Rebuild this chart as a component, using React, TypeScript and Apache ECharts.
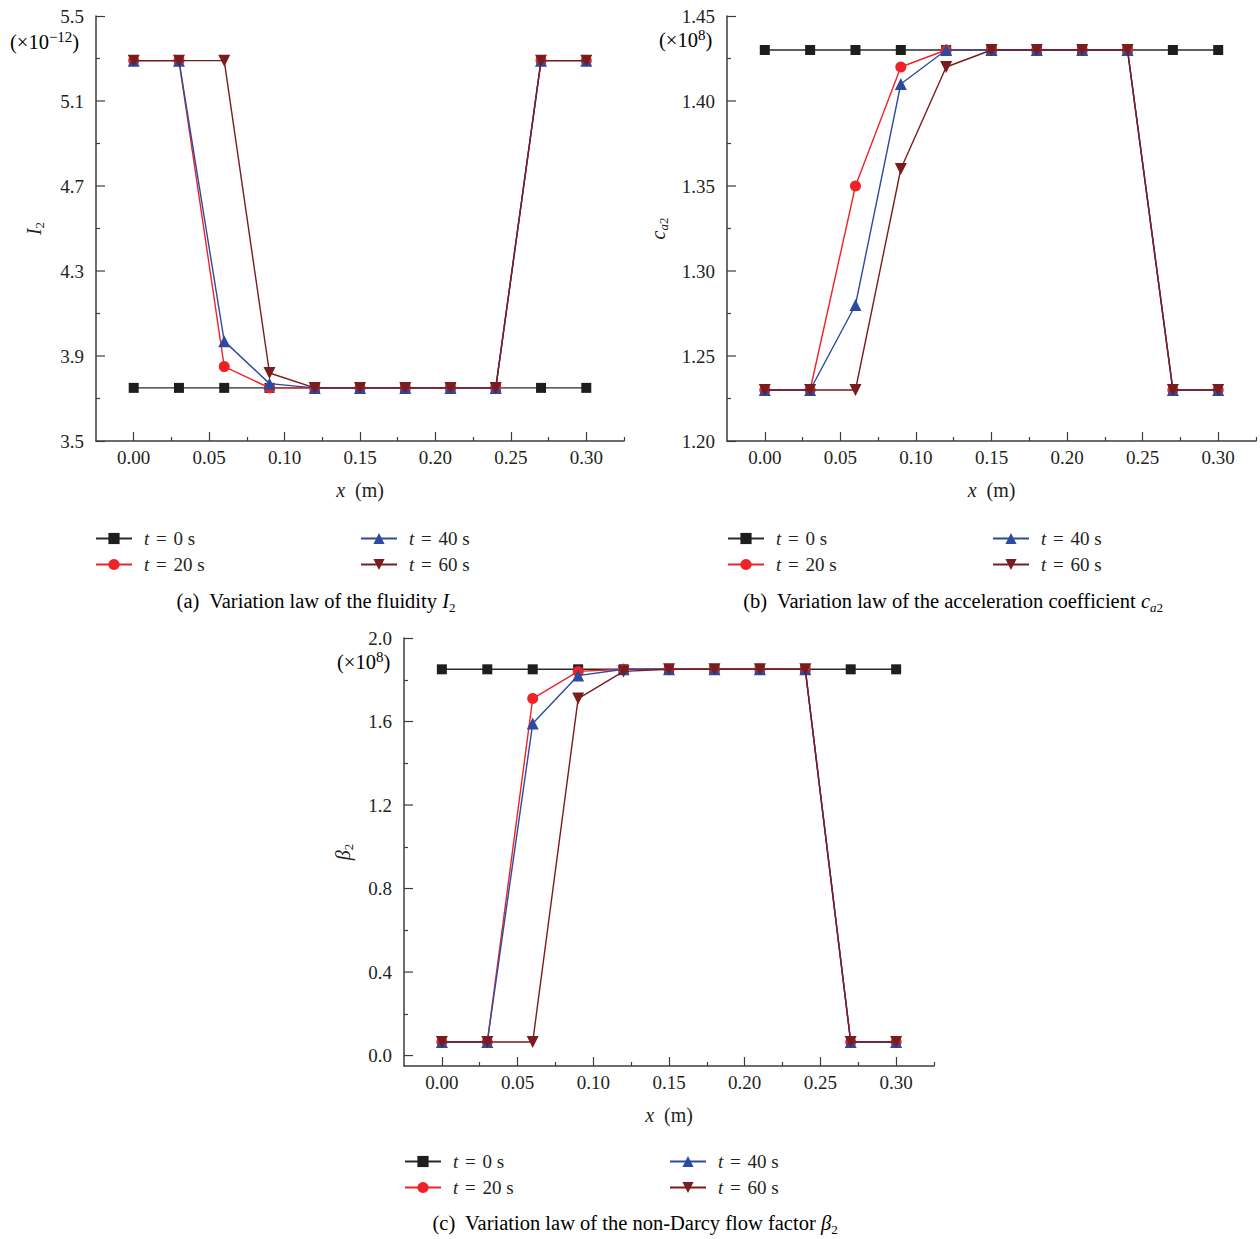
import React, { useEffect, useRef } from "react";
import * as echarts from "echarts";

const FONT = "Liberation Serif";
const TXT = "#231f20";

const xs = [0, 0.03, 0.06, 0.09, 0.12, 0.15, 0.18, 0.21, 0.24, 0.27, 0.3];
const seriesNames = ["t = 0 s", "t = 20 s", "t = 40 s", "t = 60 s"];

// (a) fluidity I2 (x1e-12)
const i2_t0 = [3.75, 3.75, 3.75, 3.75, 3.75, 3.75, 3.75, 3.75, 3.75, 3.75, 3.75];
const i2_t20 = [5.29, 5.29, 3.85, 3.75, 3.75, 3.75, 3.75, 3.75, 3.75, 5.29, 5.29];
const i2_t40 = [5.29, 5.29, 3.97, 3.77, 3.75, 3.75, 3.75, 3.75, 3.75, 5.29, 5.29];
const i2_t60 = [5.29, 5.29, 5.29, 3.82, 3.75, 3.75, 3.75, 3.75, 3.75, 5.29, 5.29];

// (b) acceleration coefficient ca2 (x1e8)
const ca_t0 = [1.43, 1.43, 1.43, 1.43, 1.43, 1.43, 1.43, 1.43, 1.43, 1.43, 1.43];
const ca_t20 = [1.23, 1.23, 1.35, 1.42, 1.43, 1.43, 1.43, 1.43, 1.43, 1.23, 1.23];
const ca_t40 = [1.23, 1.23, 1.28, 1.41, 1.43, 1.43, 1.43, 1.43, 1.43, 1.23, 1.23];
const ca_t60 = [1.23, 1.23, 1.23, 1.36, 1.42, 1.43, 1.43, 1.43, 1.43, 1.23, 1.23];

// (c) non-Darcy flow factor beta2 (x1e8)
const b_t0 = [1.85, 1.85, 1.85, 1.85, 1.85, 1.85, 1.85, 1.85, 1.85, 1.85, 1.85];
const b_t20 = [0.065, 0.065, 1.71, 1.84, 1.85, 1.85, 1.85, 1.85, 1.85, 0.065, 0.065];
const b_t40 = [0.065, 0.065, 1.59, 1.82, 1.85, 1.85, 1.85, 1.85, 1.85, 0.065, 0.065];
const b_t60 = [0.065, 0.065, 0.065, 1.71, 1.84, 1.85, 1.85, 1.85, 1.85, 0.065, 0.065];

// tick values
const xMajor = [0, 0.05, 0.1, 0.15, 0.2, 0.25, 0.3];
const xMinor = [0.025, 0.075, 0.125, 0.175, 0.225, 0.275, 0.325];
const aMajor = [3.5, 3.9, 4.3, 4.7, 5.1, 5.5];
const aMinor = [3.7, 4.1, 4.5, 4.9, 5.3];
const bMajor = [1.2, 1.25, 1.3, 1.35, 1.4, 1.45];
const bMinor = [1.225, 1.275, 1.325, 1.375, 1.425];
const cMajor = [0, 0.4, 0.8, 1.2, 1.6, 2.0];
const cMinor = [0.2, 0.6, 1.0, 1.4, 1.8];

const colors = ["#1e1e1e", "#ee2227", "#2c4b9f", "#7a1b1e"];
const lineColors = ["#2a2a2a", "#ee2227", "#2c4b9f", "#7a1b1e"];
const symbols = ["rect", "circle", "triangle", "triangle"];
const symbolSizes = [10, 11, 12, 12];
const symbolRot = [0, 0, 0, 180];

const AX = "#3c3c3c";
const FS = 19;
const X_MIN = -0.025;
const X_MAX = 0.325;

const rich: any = {
  n: { fontFamily: FONT, fontSize: FS, color: TXT, lineHeight: 24 },
  i: { fontFamily: FONT, fontSize: FS, fontStyle: "italic", color: TXT, lineHeight: 24 },
  e: { fontFamily: FONT, fontSize: FS, color: TXT, lineHeight: 24, padding: [0, 2, 0, 2] },
  u: { fontFamily: FONT, fontSize: 20.5, color: TXT, lineHeight: 26 },
  c: { fontFamily: FONT, fontSize: 20.5, color: TXT, lineHeight: 26 },
  ci: { fontFamily: FONT, fontSize: 20.5, fontStyle: "italic", color: TXT, lineHeight: 26 },
  s: { fontFamily: FONT, fontSize: 13, color: TXT, lineHeight: 13, verticalAlign: "bottom" },
  si: { fontFamily: FONT, fontSize: 13, fontStyle: "italic", color: TXT, lineHeight: 13, verticalAlign: "bottom" },
  p: { fontFamily: FONT, fontSize: 15, color: TXT, lineHeight: 15, verticalAlign: "top" },
  ax: { fontFamily: FONT, fontSize: 20, color: TXT, lineHeight: 24 },
  axi: { fontFamily: FONT, fontSize: 20, fontStyle: "italic", color: TXT, lineHeight: 24 },
};

const grids = [
  { left: 96, top: 16, width: 528, height: 425 },
  { left: 727, top: 16, width: 529, height: 425 },
  { left: 404, top: 638, width: 530, height: 428 },
];

const yCfg = [
  { min: 3.5, max: 5.5, major: aMajor, minor: aMinor, dec: 1, name: "{axi|I}{s|2}", gap: 50 },
  { min: 1.2, max: 1.45, major: bMajor, minor: bMinor, dec: 2, name: "{axi|c}{si|a}{s|2}", gap: 57 },
  { min: -0.05, max: 2.0, major: cMajor, minor: cMinor, dec: 1, name: "{axi|β}{s|2}", gap: 49 },
];

const dataSets = [
  [i2_t0, i2_t20, i2_t40, i2_t60],
  [ca_t0, ca_t20, ca_t40, ca_t60],
  [b_t0, b_t20, b_t40, b_t60],
];

function tickAxis(dim: "x" | "y", gi: number, min: number, max: number, vals: number[], len: number) {
  return {
    type: "value",
    gridIndex: gi,
    position: dim === "x" ? "bottom" : "left",
    min,
    max,
    axisLine: { show: false, onZero: false },
    axisTick: { show: true, inside: true, length: len, customValues: vals, lineStyle: { color: AX, width: 1.2 } },
    axisLabel: { show: false },
    splitLine: { show: false },
  };
}

function buildOption() {
  const xAxis: any[] = [];
  const yAxis: any[] = [];
  grids.forEach((g, gi) => {
    xAxis.push({
      type: "value",
      gridIndex: gi,
      position: "bottom",
      min: X_MIN,
      max: X_MAX,
      name: "{axi|x}{ax|  (m)}",
      nameLocation: "middle",
      nameGap: 37,
      nameTextStyle: { rich },
      axisLine: { show: true, onZero: false, lineStyle: { color: AX, width: 1.5 } },
      axisTick: { show: false },
      axisLabel: {
        customValues: xMajor,
        formatter: (v: number) => v.toFixed(2),
        fontFamily: FONT,
        fontSize: FS,
        color: TXT,
        margin: 7,
      },
      splitLine: { show: false },
    });
    const yc = yCfg[gi];
    yAxis.push({
      type: "value",
      gridIndex: gi,
      position: "left",
      min: yc.min,
      max: yc.max,
      name: yc.name,
      nameLocation: "middle",
      nameRotate: 90,
      nameGap: yc.gap,
      nameTextStyle: { rich },
      axisLine: { show: true, onZero: false, lineStyle: { color: AX, width: 1.5 } },
      axisTick: { show: false },
      axisLabel: {
        customValues: yc.major,
        formatter: (v: number) => v.toFixed(yc.dec),
        fontFamily: FONT,
        fontSize: FS,
        color: TXT,
        margin: 12,
      },
      splitLine: { show: false },
    });
  });
  // tick-only axes
  grids.forEach((g, gi) => {
    const yc = yCfg[gi];
    const ends = yc.major.filter((v) => !(v > yc.min && v < yc.max));
    xAxis.push(tickAxis("x", gi, X_MIN, X_MAX, xMajor, 9));
    xAxis.push(tickAxis("x", gi, X_MIN, X_MAX, xMinor, 4));
    yAxis.push(tickAxis("y", gi, yc.min, yc.max, ends, 9));
    yAxis.push(tickAxis("y", gi, yc.min, yc.max, yc.minor, 4));
  });

  const series: any[] = [];
  dataSets.forEach((set, gi) => {
    set.forEach((vals, si) => {
      series.push({
        type: "line",
        name: seriesNames[si],
        xAxisIndex: gi,
        yAxisIndex: gi,
        data: xs.map((x, k) => [x, vals[k]]),
        symbol: symbols[si],
        symbolSize: symbolSizes[si],
        symbolRotate: symbolRot[si],
        showAllSymbol: true,
        itemStyle: { color: colors[si] },
        lineStyle: { color: lineColors[si], width: 1.4 },
        z: 2 + si,
      });
    });
  });

  // interior major y ticks, placed through the y scale
  grids.forEach((g, gi) => {
    const yc = yCfg[gi];
    const interior = yc.major.filter((v) => v > yc.min && v < yc.max);
    series.push({
      type: "custom",
      name: "yticks" + gi,
      xAxisIndex: gi,
      yAxisIndex: gi,
      silent: true,
      clip: false,
      z: 1,
      data: interior.map((v) => [X_MIN, v]),
      renderItem: (params: any, api: any) => {
        const p = api.coord([api.value(0), api.value(1)]);
        return {
          type: "line",
          shape: { x1: p[0], y1: p[1], x2: p[0] + 9, y2: p[1] },
          style: { stroke: AX, lineWidth: 1.2 },
        };
      },
    });
  });

  const legendPos = [
    { l1: 95, l2: 360, top: 529 },
    { l1: 727, l2: 992, top: 529 },
    { l1: 404, l2: 669, top: 1152 },
  ];
  const legend: any[] = [];
  legendPos.forEach((lp) => {
    [
      { left: lp.l1, data: [seriesNames[0], seriesNames[1]] },
      { left: lp.l2, data: [seriesNames[2], seriesNames[3]] },
    ].forEach((c) => {
      legend.push({
        orient: "vertical",
        left: c.left,
        top: lp.top,
        data: c.data,
        itemWidth: 36,
        itemHeight: 14,
        itemGap: 7,
        padding: 0,
        selectedMode: false,
        formatter: (name: string) => {
          const rest = name.slice(4); // after "t = "
          return `{i|t}{n| }{e|=}{n| ${rest}}`;
        },
        textStyle: { rich, padding: [0, 0, 0, 7] },
      });
    });
  });

  const graphic: any[] = [
    { type: "text", left: 10, top: 29, style: { text: "{u|(×10}{p|−12}{u|)}", rich } },
    { type: "text", left: 659, top: 27, style: { text: "{u|(×10}{p|8}{u|)}", rich } },
    { type: "text", left: 337, top: 649, style: { text: "{u|(×10}{p|8}{u|)}", rich } },
    {
      type: "text",
      x: 316,
      y: 601,
      style: { text: "{c|(a)  Variation law of the fluidity }{ci|I}{s|2}", rich, align: "center", verticalAlign: "middle" },
    },
    {
      type: "text",
      x: 953,
      y: 601,
      style: {
        text: "{c|(b)  Variation law of the acceleration coefficient }{ci|c}{si|a}{s|2}",
        rich,
        align: "center",
        verticalAlign: "middle",
      },
    },
    {
      type: "text",
      x: 635,
      y: 1223,
      style: {
        text: "{c|(c)  Variation law of the non-Darcy flow factor }{ci|β}{s|2}",
        rich,
        align: "center",
        verticalAlign: "middle",
      },
    },
  ];

  return {
    animation: false,
    backgroundColor: "#ffffff",
    grid: grids,
    xAxis,
    yAxis,
    series,
    legend,
    graphic,
  };
}

export default function App() {
  const ref = useRef<HTMLDivElement>(null);
  useEffect(() => {
    if (!ref.current) return;
    const chart = echarts.init(ref.current, undefined, { renderer: "svg" });
    chart.setOption(buildOption() as any);
    return () => chart.dispose();
  }, []);
  return (
    <div
      ref={ref}
      style={{ position: "absolute", left: 0, top: 0, width: 1260, height: 1239, background: "#fff" }}
    />
  );
}
